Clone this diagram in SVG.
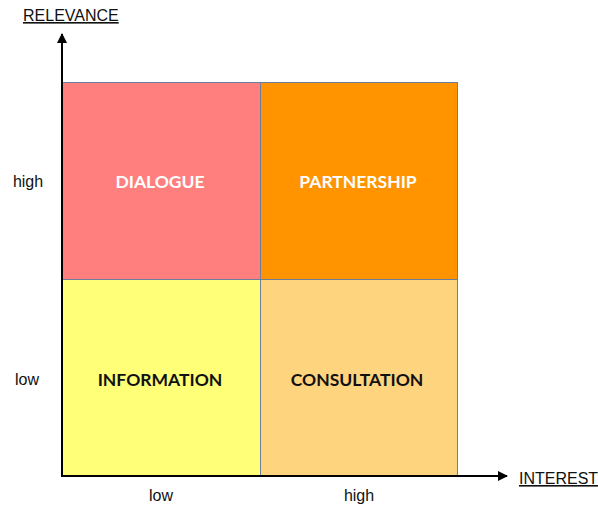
<svg xmlns="http://www.w3.org/2000/svg" width="598" height="506" viewBox="0 0 598 506">
  <style>
    .cell { stroke: #6b7f9c; stroke-width: 1; }
    .q { font-family: Lato, "Open Sans", sans-serif; font-size: 17.5px; font-weight: bold; text-anchor: middle; }
    .tick { font-family: "Liberation Sans", Arial, sans-serif; font-size: 16px; fill: #111; text-anchor: middle; }
    .axis-title { font-family: "Liberation Sans", Arial, sans-serif; font-size: 16px; fill: #111; text-decoration: underline; }
    .axis { stroke: #000; stroke-width: 2; fill: none; }
  </style>
  <defs>
    <marker id="arrow" viewBox="0 0 10 10" refX="9" refY="5" markerWidth="5" markerHeight="5" orient="auto">
      <path d="M0,0 L10,5 L0,10 z" fill="#000"/>
    </marker>
  </defs>
  <rect width="598" height="506" fill="#fff"/>

  <g id="dialogue">
    <rect class="cell" x="62.5" y="82.5" width="198" height="197" fill="#ff7f7f"/>
    <text class="q" x="160" y="188" fill="#fff">DIALOGUE</text>
  </g>
  <g id="partnership">
    <rect class="cell" x="260.5" y="82.5" width="197" height="197" fill="#ff9400"/>
    <text class="q" x="358" y="188" fill="#fff">PARTNERSHIP</text>
  </g>
  <g id="information">
    <rect class="cell" x="62.5" y="279.5" width="198" height="197" fill="#ffff78"/>
    <text class="q" x="160" y="386" fill="#111">INFORMATION</text>
  </g>
  <g id="consultation">
    <rect class="cell" x="260.5" y="279.5" width="197" height="197" fill="#ffd47f"/>
    <text class="q" x="357" y="386" fill="#111">CONSULTATION</text>
  </g>

  <g id="axes">
    <line class="axis" x1="62" y1="477" x2="62" y2="34" marker-end="url(#arrow)"/>
    <line class="axis" x1="61" y1="476" x2="507" y2="476" marker-end="url(#arrow)"/>
  </g>

  <g id="labels">
    <text class="axis-title" x="23" y="21">RELEVANCE</text>
    <text class="axis-title" x="519" y="484">INTEREST</text>
    <text class="tick" x="28" y="187">high</text>
    <text class="tick" x="27" y="385">low</text>
    <text class="tick" x="161" y="501">low</text>
    <text class="tick" x="359" y="501">high</text>
  </g>
</svg>
